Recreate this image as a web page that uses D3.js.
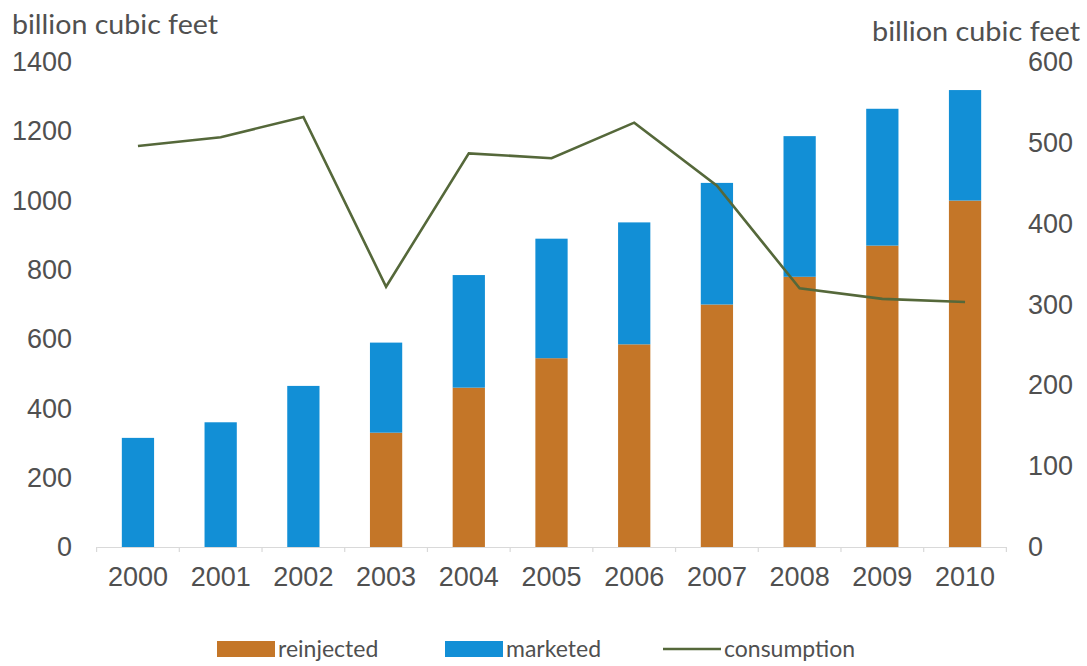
<!DOCTYPE html>
<html>
<head>
<meta charset="utf-8">
<script src="https://cdn.jsdelivr.net/npm/d3@7"></script>
<style>
  html, body { margin: 0; padding: 0; background: #fff; }
  svg { display: block; }
</style>
</head>
<body>
<svg id="chart" width="1087" height="666"></svg>
<script>
// Gas production (stacked bars, left axis) and consumption (line, right axis)
const years       = ["2000","2001","2002","2003","2004","2005","2006","2007","2008","2009","2010"];
const reinjected  = [0, 0, 0, 330, 460, 545, 585, 700, 780, 870, 1000];
const marketed    = [315, 360, 465, 260, 325, 345, 352, 351, 406, 395, 319];
const consumption = [496, 507, 532, 322, 487, 481, 525, 447, 320, 307, 303];
const leftTicks   = [0, 200, 400, 600, 800, 1000, 1200, 1400];
const rightTicks  = [0, 100, 200, 300, 400, 500, 600];
const unitLabel   = "billion cubic feet";
const seriesNames = ["reinjected", "marketed", "consumption"];

const colors = { reinjected: "#c47628", marketed: "#128fd6", consumption: "#55683a" };
const tickFont = "'Liberation Sans', Arial, sans-serif";
const labelFont = "Lato, 'Open Sans', sans-serif";
const textColor = "#505050";

const svg = d3.select("#chart");

const x = d3.scaleBand().domain(years).range([96.6, 1006.4])
  .paddingInner(0.61).paddingOuter(0.305);
const yL = d3.scaleLinear().domain([0, 1400]).range([547, 62]);
const yR = d3.scaleLinear().domain([0, 600]).range([547, 62]);

// stacked series
const rows = years.map((yr, i) => ({ year: yr, reinjected: reinjected[i], marketed: marketed[i] }));
const stack = d3.stack().keys(["reinjected", "marketed"])(rows);

svg.append("g").selectAll("g").data(stack).join("g")
  .attr("fill", d => colors[d.key])
  .selectAll("rect").data(d => d).join("rect")
  .attr("x", d => x(d.data.year))
  .attr("width", x.bandwidth())
  .attr("y", d => yL(d[1]))
  .attr("height", d => yL(d[0]) - yL(d[1]));

// category axis
const xAxis = svg.append("g").attr("transform", "translate(0,547)")
  .call(d3.axisBottom(x).tickSize(0).tickPadding(25));
xAxis.select(".domain").attr("stroke", "#d9d9d9").attr("stroke-width", 1.2);
xAxis.selectAll("text").attr("font-family", tickFont).attr("font-size", 27)
  .attr("fill", textColor).attr("dy", "0.52em");
// tick marks between categories
const bounds = years.map(yr => x(yr) - x.step() * x.paddingInner() / 2).concat([x.range()[1]]);
xAxis.selectAll("line.sep").data(bounds).join("line").attr("class", "sep")
  .attr("x1", d => d).attr("x2", d => d).attr("y1", 0).attr("y2", 5)
  .attr("stroke", "#d9d9d9").attr("stroke-width", 1.2);

// left value axis
const lAxis = svg.append("g").attr("transform", "translate(72,0)")
  .call(d3.axisLeft(yL).tickValues(leftTicks).tickFormat(d3.format("d")).tickSize(0).tickPadding(0));
lAxis.select(".domain").remove();
lAxis.selectAll("text").attr("font-family", tickFont).attr("font-size", 27).attr("fill", textColor);

// right value axis
const rAxis = svg.append("g").attr("transform", "translate(1028,0)")
  .call(d3.axisRight(yR).tickValues(rightTicks).tickFormat(d3.format("d")).tickSize(0).tickPadding(0));
rAxis.select(".domain").remove();
rAxis.selectAll("text").attr("font-family", tickFont).attr("font-size", 27).attr("fill", textColor);

// unit titles
svg.append("text").attr("x", 12).attr("y", 34).text(unitLabel)
  .attr("font-family", labelFont).attr("font-size", 27).attr("fill", textColor)
  .attr("textLength", 206).attr("lengthAdjust", "spacingAndGlyphs");
svg.append("text").attr("x", 1080).attr("y", 41).attr("text-anchor", "end").text(unitLabel)
  .attr("font-family", labelFont).attr("font-size", 27).attr("fill", textColor)
  .attr("textLength", 208).attr("lengthAdjust", "spacingAndGlyphs");

// consumption line
const line = d3.line().x((d, i) => x(years[i]) + x.bandwidth() / 2).y(d => yR(d));
svg.append("path").datum(consumption).attr("d", line)
  .attr("fill", "none").attr("stroke", colors.consumption).attr("stroke-width", 2.6)
  .attr("stroke-linejoin", "miter");

// legend
const legend = svg.append("g").attr("font-family", labelFont).attr("font-size", 23).attr("fill", textColor);
const items = [
  { name: seriesNames[0], x: 217, type: "rect" },
  { name: seriesNames[1], x: 445, type: "rect" },
  { name: seriesNames[2], x: 663, type: "line" }
];
items.forEach(it => {
  if (it.type === "rect") {
    legend.append("rect").attr("x", it.x).attr("y", 641).attr("width", 58).attr("height", 16)
      .attr("fill", colors[it.name]);
  } else {
    legend.append("line").attr("x1", it.x).attr("x2", it.x + 58).attr("y1", 649).attr("y2", 649)
      .attr("stroke", colors.consumption).attr("stroke-width", 2.6);
  }
  legend.append("text").attr("x", it.x + 61).attr("y", 657).text(it.name);
});
</script>
</body>
</html>
